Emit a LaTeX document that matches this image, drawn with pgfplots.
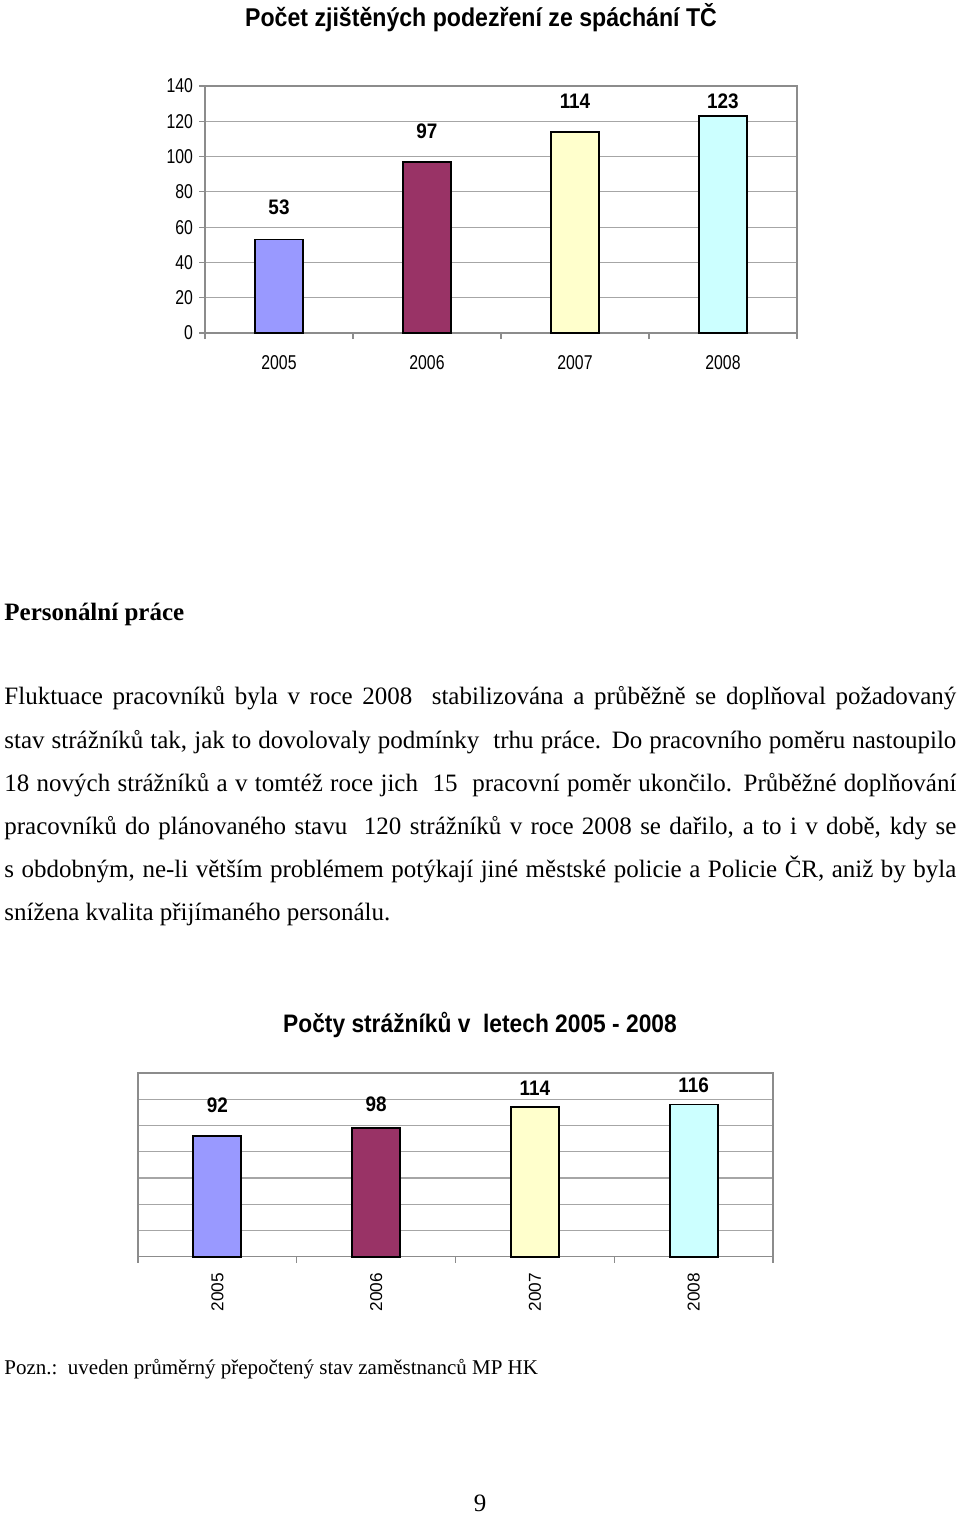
\documentclass[border=0pt]{standalone}
\usepackage{fontspec}
\setmainfont{Liberation Serif}
\newfontfamily\chartfont[FakeStretch=0.79]{Liberation Sans}
\newfontfamily\labelfont[FakeStretch=0.9]{Liberation Sans}
\newfontfamily\rotfont{Liberation Sans}
\usepackage{pgfplots}
\pgfplotsset{compat=1.18}
\definecolor{barA}{HTML}{9999FF}
\definecolor{barB}{HTML}{993366}
\definecolor{barC}{HTML}{FFFFCC}
\definecolor{barD}{HTML}{CCFFFF}
\definecolor{gridgray}{HTML}{A6A6A6}
\definecolor{axisgray}{HTML}{8C8C8C}
\pgfplotstableread{
x y
0 53
1 97
2 114
3 123
}\tcdata
\pgfplotstableread{
x y
0 92
1 98
2 114
3 116
}\strdata
\pgfplotsset{
  pagechart/.style={
    scale only axis, anchor=south west,
    xmin=-0.5, xmax=3.5, ymin=0, ymax=140,
    ytick={0,20,...,140},
    xtick={-0.5,0.5,1.5,2.5,3.5},
    x tick label as interval,
    xticklabels={2005,2006,2007,2008},
    tick pos=left, tick align=outside, major tick length=3pt,
    ymajorgrids, grid style={draw=gridgray, line width=0.6pt},
    axis line style={draw=axisgray, line width=0.7pt},
    tick style={draw=axisgray, line width=0.6pt},
    ticklabel style={font=\chartfont\fontsize{10}{11}\selectfont},
    /pgf/number format/assume math mode=true,
    clip=false,
  },
  onebar/.style={ybar, bar shift=0pt, bar width=24pt, draw=black, line width=0.9pt, fill=#1},
  vlabels/.style={draw=none, mark=none, nodes near coords, point meta=explicit symbolic,
    nodes near coords style={anchor=center, inner sep=0pt, font=\labelfont\bfseries\fontsize{10.5}{11}\selectfont}},
}
\begin{document}
\begin{tikzpicture}
\useasboundingbox (0pt,0pt) rectangle (480pt,-758.5pt);
% chart 1 title
\node[font=\labelfont\bfseries\fontsize{12.85}{14}\selectfont, inner sep=0pt] at (240.5pt,-9pt) {Počet zjištěných podezření ze spáchání TČ};
\begin{axis}[pagechart, at={(102.5pt,-166.5pt)}, width=296pt, height=123.5pt,
  xticklabel style={yshift=-4.5pt},
  yticklabel style={xshift=0.5pt}]
\addplot[onebar=barA] table[x=x,y=y,restrict x to domain=0:0] {\tcdata};
\addplot[onebar=barB] table[x=x,y=y,restrict x to domain=1:1] {\tcdata};
\addplot[onebar=barC] table[x=x,y=y,restrict x to domain=2:2] {\tcdata};
\addplot[onebar=barD] table[x=x,y=y,restrict x to domain=3:3] {\tcdata};
\addplot[vlabels] coordinates {(0,71.4) [53] (1,114.5) [97] (2,131.5) [114] (3,131.5) [123]};
\end{axis}
% text
\node[anchor=base west, inner sep=0pt, font=\bfseries\fontsize{12.5}{15}\selectfont] at (2pt,-310pt) {Personální práce};
\begin{scope}[every node/.style={anchor=base west, inner sep=0pt, font=\fontsize{12.5}{15}\selectfont}]
\node at (2pt,-352pt) {\makebox[476pt][s]{Fluktuace pracovníků byla v roce 2008\ \ stabilizována a průběžně se doplňoval požadovaný}};
\node at (2pt,-374pt) {\makebox[476pt][s]{stav strážníků tak, jak to dovolovaly podmínky\ \ trhu práce. Do pracovního poměru nastoupilo}};
\node at (2pt,-395.5pt) {\makebox[476pt][s]{18 nových strážníků a v tomtéž roce jich\ \ 15\ \ pracovní poměr ukončilo. Průběžné doplňování}};
\node at (2pt,-417pt) {\makebox[476pt][s]{pracovníků do plánovaného stavu\ \ 120 strážníků v roce 2008 se dařilo, a to i v době, kdy se}};
\node at (2pt,-438.5pt) {\makebox[476pt][s]{s obdobným, ne-li větším problémem potýkají jiné městské policie a Policie ČR, aniž by byla}};
\node at (2pt,-460pt) {snížena kvalita přijímaného personálu.};
\end{scope}
% chart 2 title
\node[font=\labelfont\bfseries\fontsize{12.65}{14}\selectfont, inner sep=0pt] at (240pt,-512.5pt) {Počty strážníků v\ \ letech 2005 - 2008};
\begin{axis}[pagechart, at={(69pt,-628.35pt)}, width=317.5pt, height=91.85pt,
  yticklabels={}, ytick style={draw=none},
  xticklabel style={rotate=90, anchor=east, inner sep=0pt, xshift=-5pt,
    font=\rotfont\fontsize{8.6}{10}\selectfont}]
\addplot[onebar=barA] table[x=x,y=y,restrict x to domain=0:0] {\strdata};
\addplot[onebar=barB] table[x=x,y=y,restrict x to domain=1:1] {\strdata};
\addplot[onebar=barC] table[x=x,y=y,restrict x to domain=2:2] {\strdata};
\addplot[onebar=barD] table[x=x,y=y,restrict x to domain=3:3] {\strdata};
\addplot[vlabels] coordinates {(0,115.6) [92] (1,116.4) [98] (2,128.6) [114] (3,130.9) [116]};
\end{axis}
\node[anchor=base west, inner sep=0pt, font=\fontsize{10.5}{12}\selectfont] at (2pt,-687pt) {Pozn.:\ \ uveden průměrný přepočtený stav zaměstnanců MP HK};
\node[anchor=base, inner sep=0pt, font=\fontsize{12.5}{15}\selectfont] at (240pt,-755.5pt) {9};
\end{tikzpicture}
\end{document}
